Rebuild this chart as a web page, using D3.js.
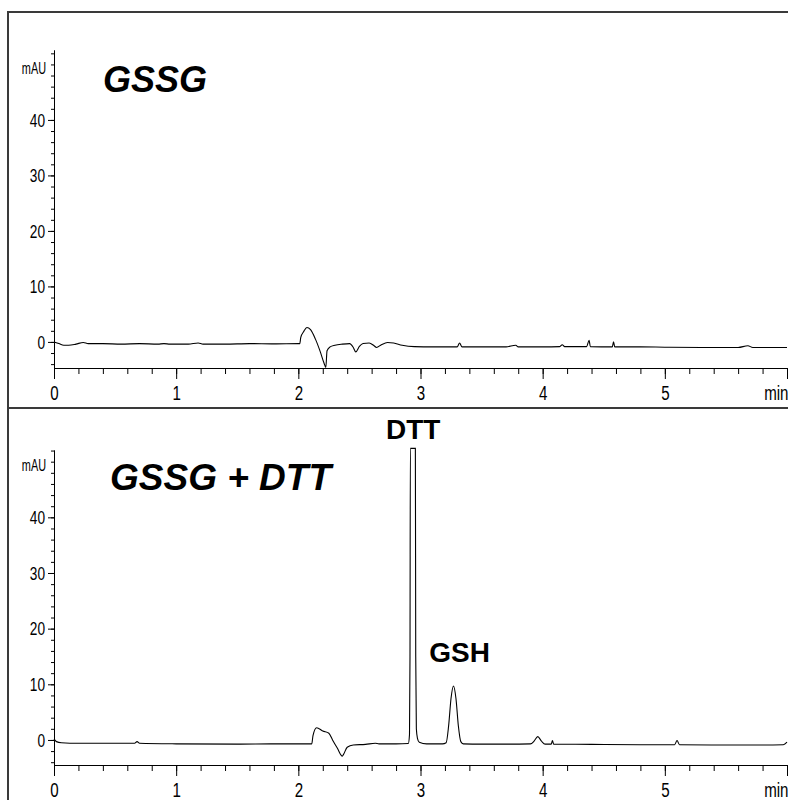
<!DOCTYPE html>
<html>
<head>
<meta charset="utf-8">
<script src="https://cdnjs.cloudflare.com/ajax/libs/d3/7.8.5/d3.min.js"></script>
<style>
  body { margin: 0; background: #fff; }
  .axis text, .unit { font-family: "Liberation Sans", Arial, sans-serif; fill: #000; }
  .axis path, .axis line { stroke: #000; stroke-width: 1; }
  .title { font-family: "Liberation Sans", Arial, sans-serif; font-weight: bold; }
</style>
</head>
<body>
<div id="vis"></div>
<script>
const FRAME_WIDTH = 788;
const FRAME_HEIGHT = 800;
const NARROW = 0.72; // the instrument printout uses a condensed face

// axis ticks / labels
const X_TICKS = [0, 1, 2, 3, 4, 5, 6];
const X_TICK_LABELS = ["0", "1", "2", "3", "4", "5", "min"];
const Y_TICKS = [0, 10, 20, 30, 40];
const Y_TICK_LABELS = ["0", "10", "20", "30", "40"];
const Y_UNIT = "mAU";

// GSSG trace (time in min, absorbance in mAU)
const GSSG_TIME = [0.00, 0.04, 0.08, 0.12, 0.18, 0.24, 0.28, 0.40, 0.55, 0.70, 0.85, 0.90, 0.95, 1.10, 1.18, 1.22,
  1.40, 1.60, 1.80, 2.00, 2.012, 2.02, 2.045, 2.07, 2.10, 2.14, 2.18, 2.21, 2.225, 2.235, 2.26, 2.30, 2.36, 2.42,
  2.45, 2.47, 2.50, 2.53, 2.58, 2.62, 2.64, 2.68, 2.73, 2.78, 2.85, 2.95, 3.10, 3.30, 3.32, 3.34, 3.50, 3.70,
  3.78, 3.80, 4.00, 4.14, 4.16, 4.18, 4.36, 4.38, 4.39, 4.57, 4.58, 4.59, 4.80, 5.00, 5.30, 5.60, 5.68, 5.72, 6.00];
const GSSG_MAU = [0.0, -0.3, -0.6, -0.6, -0.4, -0.1, -0.3, -0.3, -0.4, -0.3, -0.4, -0.3, -0.4, -0.4, -0.2, -0.4,
  -0.4, -0.3, -0.35, -0.3, -0.3, 0.8, 1.9, 2.6, 2.2, 0.5, -1.8, -3.8, -4.6, -1.6, -0.9, -0.6, -0.4, -0.3,
  -1.0, -1.8, -0.8, -0.3, -0.2, -0.7, -1.0, -0.5, -0.1, -0.2, -0.6, -0.85, -0.9, -0.9, -0.2, -0.9, -0.9, -0.9,
  -0.6, -0.9, -0.9, -0.85, -0.5, -0.85, -0.85, 0.3, -0.85, -0.9, 0.0, -0.9, -0.9, -0.95, -1.0, -1.0, -0.7, -1.0, -1.0];

// GSSG + DTT trace
const MIX_TIME = [0.00, 0.02, 0.06, 0.20, 0.40, 0.66, 0.68, 0.70, 1.00, 1.50, 1.80, 2.00, 2.11, 2.12, 2.15, 2.20,
  2.25, 2.28, 2.32, 2.36, 2.37, 2.40, 2.45, 2.55, 2.63, 2.66, 2.80, 2.90, 2.910, 2.914, 2.917, 2.958,
  2.961, 2.966, 2.975, 2.99, 3.05, 3.18, 3.21, 3.23, 3.25, 3.27, 3.29, 3.31, 3.33, 3.35, 3.50, 3.70,
  3.90, 3.93, 3.96, 3.99, 4.02, 4.07, 4.08, 4.09, 4.40, 4.80, 5.08, 5.10, 5.12, 5.50, 5.80, 5.97, 6.00];
const MIX_MAU = [0.2, -0.3, -0.5, -0.6, -0.6, -0.6, -0.3, -0.6, -0.7, -0.75, -0.7, -0.7, -0.7, 0.8, 2.2, 1.6,
  1.2, 0.0, -1.5, -2.9, -2.6, -1.3, -0.9, -0.8, -0.6, -0.7, -0.7, -0.65, 1.0, 15.0, 52.4, 52.4,
  15.0, 2.0, 0.3, -0.4, -0.7, -0.7, -0.5, 2.5, 7.5, 9.7, 7.5, 2.5, -0.3, -0.7, -0.75, -0.75,
  -0.7, -0.2, 0.6, -0.2, -0.75, -0.75, -0.1, -0.75, -0.8, -0.85, -0.85, -0.1, -0.85, -0.9, -0.9, -0.85, -0.4];

// peak labels
const PEAK_NAMES = ["DTT", "GSH"];
const PEAK_TIMES = [2.94, 3.32];
const PEAK_LABEL_MAU = [54.0, 14.0];

const X_SCALE = d3.scaleLinear().domain([0, 6]).range([54, 787]);

const PANELS = [
  {title: "GSSG", time: GSSG_TIME, mau: GSSG_MAU, top: 50, bottom: 368, yDomain: [-4.7, 52.6], titleX: 103, titleY: 92, titleSize: 36, peaks: false},
  {title: "GSSG + DTT", time: MIX_TIME, mau: MIX_MAU, top: 450, bottom: 765, yDomain: [-4.5, 52.1], titleX: 110, titleY: 490, titleSize: 37, peaks: true}
];

const SVG = d3.select("#vis")
  .append("svg")
    .attr("width", FRAME_WIDTH)
    .attr("height", FRAME_HEIGHT);

// frame lines
SVG.append("path")
  .attr("d", "M8,800 L8,12 L788,12 M8,408 L788,408")
  .attr("fill", "none")
  .attr("stroke", "#3a3a3a")
  .attr("stroke-width", 2);

PANELS.forEach(function(p) {
  const yScale = d3.scaleLinear().domain(p.yDomain).range([p.bottom, p.top]);

  // x axis minor ticks
  SVG.append("g")
    .attr("class", "axis")
    .attr("transform", "translate(0," + p.bottom + ")")
    .call(d3.axisBottom(X_SCALE).tickValues(d3.range(0, 6.01, 0.2)).tickSize(6).tickSizeOuter(0).tickFormat(""));

  // x axis major ticks + labels
  const xAxis = SVG.append("g")
    .attr("class", "axis")
    .attr("transform", "translate(0," + p.bottom + ")")
    .call(d3.axisBottom(X_SCALE).tickValues(X_TICKS).tickSize(11).tickSizeOuter(0).tickPadding(6)
      .tickFormat((d, i) => X_TICK_LABELS[i]));
  xAxis.selectAll("text")
    .attr("font-size", "21px")
    .attr("transform", "scale(" + NARROW + ",1)");
  xAxis.selectAll(".tick").filter((d) => d === 6).select("text")
    .attr("text-anchor", "end")
    .attr("x", 1 / NARROW);

  // y axis minor ticks
  SVG.append("g")
    .attr("class", "axis")
    .attr("transform", "translate(54,0)")
    .call(d3.axisLeft(yScale).tickValues(d3.range(-4, 52.1, 2)).tickSize(3).tickSizeOuter(0).tickFormat(""));

  // y axis major ticks + labels
  const yAxis = SVG.append("g")
    .attr("class", "axis")
    .attr("transform", "translate(54,0)")
    .call(d3.axisLeft(yScale).tickValues(Y_TICKS).tickSize(6).tickSizeOuter(0).tickPadding(3)
      .tickFormat((d, i) => Y_TICK_LABELS[i]));
  yAxis.selectAll("text")
    .attr("font-size", "19px")
    .attr("x", -9 / NARROW)
    .attr("transform", "scale(" + NARROW + ",1)");

  // unit label
  SVG.append("text")
    .attr("class", "unit")
    .attr("transform", "translate(46," + yScale(49.3) + ") scale(0.68,1)")
    .attr("dy", "0.35em")
    .attr("text-anchor", "end")
    .attr("font-size", "16px")
    .text(Y_UNIT);

  // trace
  const pts = p.time.map((t, i) => [t, p.mau[i]]);
  SVG.append("path")
    .datum(pts)
    .attr("fill", "none")
    .attr("stroke", "#000")
    .attr("stroke-width", 1.1)
    .attr("d", d3.line().x((d) => X_SCALE(d[0])).y((d) => yScale(d[1])).curve(d3.curveMonotoneX));

  // panel title
  SVG.append("text")
    .attr("class", "title")
    .attr("x", p.titleX)
    .attr("y", p.titleY)
    .attr("font-size", p.titleSize + "px")
    .attr("font-style", "italic")
    .text(p.title);

  if (p.peaks) {
    PEAK_NAMES.forEach(function(name, i) {
      SVG.append("text")
        .attr("class", "title")
        .attr("x", X_SCALE(PEAK_TIMES[i]))
        .attr("y", yScale(PEAK_LABEL_MAU[i]))
        .attr("text-anchor", "middle")
        .attr("font-size", "28px")
        .text(name);
    });
  }
});
</script>
</body>
</html>
